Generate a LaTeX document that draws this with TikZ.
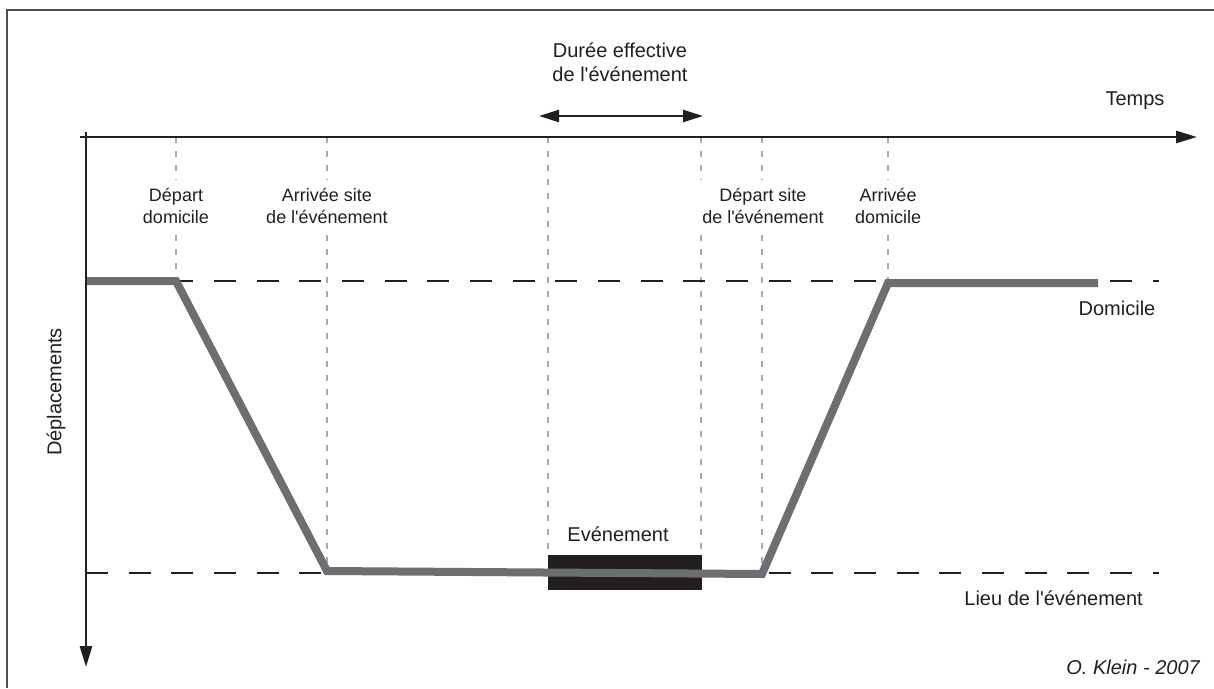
\documentclass[tikz,border=0pt]{standalone}
\usepackage{fontspec}
\setmainfont{Liberation Sans}
% family without the TeX quote mapping, so ' stays a straight apostrophe
\newfontfamily\arial{Liberation Sans}
\usetikzlibrary{arrows.meta}
\definecolor{ink}{HTML}{231F20}
\definecolor{track}{HTML}{6D6E71}
\definecolor{guidegray}{HTML}{A7A9AC}
\begin{document}
\begin{tikzpicture}[x=1pt,y=-1pt,
  axis/.style={ink,line width=2.8pt,-{Triangle[length=21pt,width=12pt]}},
  span/.style={ink,line width=2.4pt,{Triangle[length=20pt,width=12pt]}-{Triangle[length=20pt,width=12pt]}},
  level/.style={ink,line width=2.8pt,dash pattern=on 22pt off 20.67pt},
  guide/.style={guidegray,line width=2pt,dash pattern=on 6pt off 8pt},
  tag/.style={font=\arial\fontsize{18}{22}\selectfont,text=ink,align=center,fill=white,inner xsep=3pt,inner ysep=8pt},
  lbl/.style={font=\arial\fontsize{20}{24}\selectfont,text=ink,inner sep=0pt},
  ]
\useasboundingbox (0,0) rectangle (1214,688);
\fill[white] (0,0) rectangle (1214,688);
% frame
\draw[ink!80,line width=1.2pt] (7,688) -- (7,10) -- (1214,10);

% axes end points
\coordinate (xs) at (80,137);
\coordinate (xe) at (1197,137);
\coordinate (ys) at (86,132);
\coordinate (ye) at (86,667);

% time marks on the axis and their lower ends
\coordinate (t1) at (176,137); \coordinate (b1) at (176,281);
\coordinate (t2) at (327,137); \coordinate (b2) at (327,571);
\coordinate (t3) at (548,137); \coordinate (b3) at (548,555);
\coordinate (t4) at (701,137); \coordinate (b4) at (701,555);
\coordinate (t5) at (762,137); \coordinate (b5) at (762,573);
\coordinate (t6) at (888,137); \coordinate (b6) at (888,283);

% vertical guides
\foreach \i in {1,...,6} \draw[guide] (t\i) -- (b\i);

% event labels on the guides
\node[tag] (l1) at (176,206) {Départ\\domicile};
\node[tag] (l2) at (327,206) {Arrivée site\\de l'événement};
\node[tag] (l5) at (763,206) {Départ site\\de l'événement};
\node[tag] (l6) at (888,206) {Arrivée\\domicile};

% home and event levels
\coordinate (h0) at (86,281);  \coordinate (h1) at (1159,281);
\coordinate (e0) at (86,573);  \coordinate (e1) at (1159,573);
\draw[level] (h0) -- (h1);
\draw[level] (e0) -- (e1);

% the event itself
\node[fill=ink,minimum width=153.5pt,minimum height=35pt,inner sep=0pt] (evt) at (624.75,572.5) {};
\node[lbl,anchor=base] (evtl) at (618,541) {Evénement};

% travel path
\coordinate (p0) at (86,281);
\coordinate (p1) at (176,281);
\coordinate (p2) at (327,571);
\coordinate (p3) at (762,574);
\coordinate (p4) at (888,283);
\coordinate (p5) at (1098,283);
\draw[track,line width=8pt,line join=miter] (p0) -- (p1) -- (p2) -- (p3) -- (p4) -- (p5);

% axes
\draw[axis] (xs) -- (xe);
\draw[axis] (ys) -- (ye);

% effective duration
\coordinate (d0) at (539,116);
\coordinate (d1) at (703,116);
\draw[span] (d0) -- (d1);
\node[lbl,align=center,font=\arial\fontsize{20}{24}\selectfont] (dur) at (620,62) {Durée effective\\de l'événement};

% axis and level names
\node[lbl,anchor=base] (temps) at (1135,105) {Temps};
\node[lbl,anchor=base] (dom) at (1117,315) {Domicile};
\node[lbl,anchor=base east] (lieu) at (1143,605) {Lieu de l'événement};
\node[lbl,rotate=90] (depl) at (56,392) {Déplacements};
\node[lbl,anchor=base east,font=\arial\itshape\fontsize{20}{24}\selectfont] (sig) at (1200,674) {O. Klein - 2007};
\end{tikzpicture}
\end{document}
